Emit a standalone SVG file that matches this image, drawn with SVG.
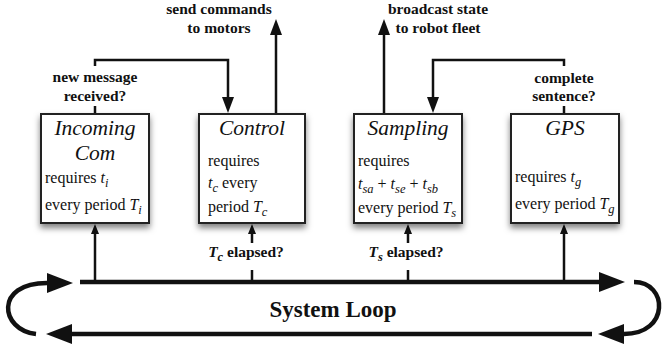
<svg xmlns="http://www.w3.org/2000/svg" width="665" height="347" viewBox="0 0 665 347">
<style>
.box{fill:#fff;stroke:#222;stroke-width:2;filter:url(#sh)}
.ttl{font-family:"Liberation Serif",serif;font-style:italic;font-size:21.5px;text-anchor:middle;fill:#111}
.body{font-family:"Liberation Serif",serif;font-size:16px;fill:#111}
.lbl{font-family:"Liberation Serif",serif;font-weight:bold;font-size:15.5px;text-anchor:middle;fill:#111}
.big{font-family:"Liberation Serif",serif;font-weight:bold;font-size:23px;text-anchor:middle;fill:#111}
.it{font-style:italic}
.sub{font-style:italic;font-size:12.5px}
.ln{fill:none;stroke:#111;stroke-width:2.5}
.loop{fill:none;stroke:#111;stroke-width:4.5}
</style>
<defs>
<filter id="sh" x="-20%" y="-20%" width="140%" height="150%">
<feDropShadow dx="0" dy="4" stdDeviation="3" flood-color="#000" flood-opacity="0.5"/>
</filter>
<marker id="ab" viewBox="0 0 16 12" refX="0" refY="6" markerWidth="16" markerHeight="12" markerUnits="userSpaceOnUse" orient="auto"><path d="M0,0L16,6L0,12z" fill="#111"/></marker>
<marker id="as" viewBox="0 0 10 8" refX="0" refY="4" markerWidth="10" markerHeight="8" markerUnits="userSpaceOnUse" orient="auto"><path d="M0,0L10,4L0,8z" fill="#111"/></marker>
<marker id="al" viewBox="0 0 26 20" refX="0" refY="10" markerWidth="26" markerHeight="20" markerUnits="userSpaceOnUse" orient="auto"><path d="M0,0L26,10L0,20z" fill="#111"/></marker>
</defs>
<rect width="665" height="347" fill="#fff"/>

<g id="connectors">
<path class="ln" d="M95,106V114"/>
<path class="ln" d="M95,66V60H228V97" marker-end="url(#ab)"/>
<path class="ln" d="M276,114V35" marker-end="url(#ab)"/>
<path class="ln" d="M384,114V35" marker-end="url(#ab)"/>
<path class="ln" d="M564,106V114"/>
<path class="ln" d="M564,66V60H433V97" marker-end="url(#ab)"/>
<path class="ln" d="M95,282V234" marker-end="url(#as)"/>
<path class="ln" d="M252,282V270"/>
<path class="ln" d="M252,243V234" marker-end="url(#as)"/>
<path class="ln" d="M408,282V270"/>
<path class="ln" d="M408,243V234" marker-end="url(#as)"/>
<path class="ln" d="M564,282V234" marker-end="url(#as)"/>
<path class="loop" d="M80,282H599" marker-end="url(#al)"/>
<path class="loop" d="M592,334H72" marker-end="url(#al)"/>
<path class="loop" d="M36,334C0,330 -6,283 47,283" marker-end="url(#al)"/>
<path class="loop" d="M634,282C668,282 670,334 624,334" marker-end="url(#al)"/>
<text class="lbl" x="95" y="82">new message</text>
<text class="lbl" x="95" y="101">received?</text>
<text class="lbl" x="219" y="14">send commands</text>
<text class="lbl" x="219" y="33">to motors</text>
<text class="lbl" x="438" y="14">broadcast state</text>
<text class="lbl" x="438" y="33">to robot fleet</text>
<text class="lbl" x="564" y="83">complete</text>
<text class="lbl" x="564" y="101">sentence?</text>
<text class="lbl" x="246" y="257"><tspan class="it">T</tspan><tspan class="sub" dy="4">c</tspan><tspan dy="-4"> elapsed?</tspan></text>
<text class="lbl" x="406" y="257"><tspan class="it">T</tspan><tspan class="sub" dy="4">s</tspan><tspan dy="-4"> elapsed?</tspan></text>
<text class="big" x="333" y="317">System Loop</text>
</g>

<g id="incoming">
<rect class="box" x="41" y="114" width="108" height="109"/>
<text class="ttl" x="95" y="135">Incoming</text>
<text class="ttl" x="95" y="160">Com</text>
<text class="body" x="45" y="183">requires <tspan class="it">t</tspan><tspan class="sub" dy="4">i</tspan></text>
<text class="body" x="45" y="210">every period <tspan class="it">T</tspan><tspan class="sub" dy="4">i</tspan></text>
</g>

<g id="control">
<rect class="box" x="199" y="114" width="106" height="109"/>
<text class="ttl" x="252" y="135">Control</text>
<text class="body" x="208" y="166">requires</text>
<text class="body" x="208" y="188"><tspan class="it">t</tspan><tspan class="sub" dy="4">c</tspan><tspan dy="-4"> every</tspan></text>
<text class="body" x="208" y="212">period <tspan class="it">T</tspan><tspan class="sub" dy="4">c</tspan></text>
</g>

<g id="sampling">
<rect class="box" x="354" y="114" width="108" height="109"/>
<text class="ttl" x="408" y="135">Sampling</text>
<text class="body" x="358" y="166">requires</text>
<text class="body" x="358" y="189"><tspan class="it">t</tspan><tspan class="sub" dy="4">sa</tspan><tspan dy="-4"> + </tspan><tspan class="it">t</tspan><tspan class="sub" dy="4">se</tspan><tspan dy="-4"> + </tspan><tspan class="it">t</tspan><tspan class="sub" dy="4">sb</tspan></text>
<text class="body" x="358" y="213">every period <tspan class="it">T</tspan><tspan class="sub" dy="4">s</tspan></text>
</g>

<g id="gps">
<rect class="box" x="511" y="114" width="108" height="109"/>
<text class="ttl" x="565" y="135">GPS</text>
<text class="body" x="515" y="182">requires <tspan class="it">t</tspan><tspan class="sub" dy="4">g</tspan></text>
<text class="body" x="515" y="209">every period <tspan class="it">T</tspan><tspan class="sub" dy="4">g</tspan></text>
</g>
</svg>
